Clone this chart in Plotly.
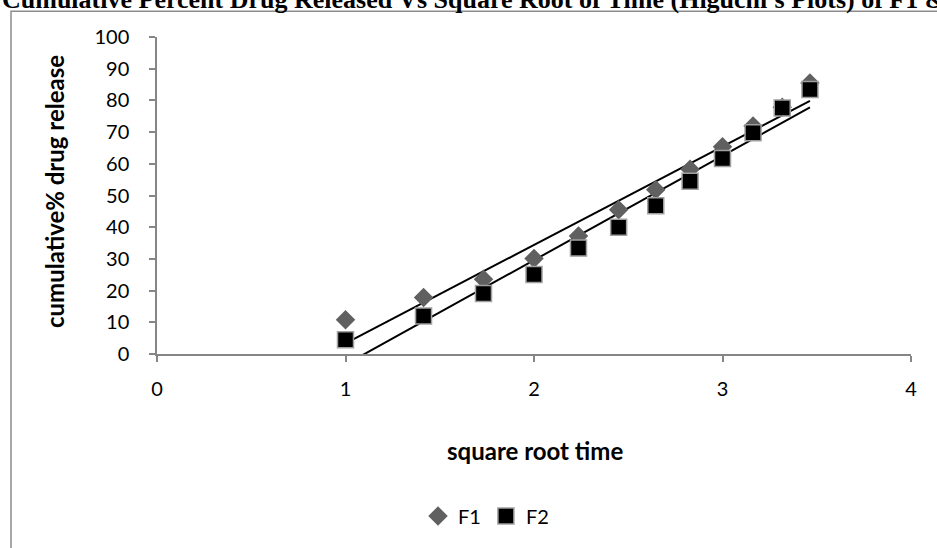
import numpy as np
import plotly.graph_objects as go

# Data
sqrt_time = [1.0, 1.414, 1.732, 2.0, 2.236, 2.449, 2.646, 2.828, 3.0, 3.162, 3.317, 3.464]
f1_release = [10.8, 17.8, 23.6, 30.1, 37.2, 45.5, 51.8, 58.3, 65.4, 71.9, 77.8, 85.5]
f2_release = [4.5, 12.0, 19.1, 25.1, 33.4, 40.0, 46.8, 54.5, 61.7, 69.8, 77.6, 83.4]
series_names = ["F1", "F2"]
x_ticks = [0, 1, 2, 3, 4]
y_ticks = list(range(0, 101, 10))

title_text = "Cumulative Percent Drug Released Vs Square Root of Time (Higuchi's Plots) of F1 & F2"
x_title = "square root time"
y_title = "cumulative% drug release"

W, H = 937, 548
L, R, T, B = 157, 26, 37, 192
pw, ph = W - L - R, H - T - B


def px_x(p):
    return (p - L) / pw


def px_y(p):
    return (H - B - p) / ph


font_sans = "Lato"
tick_font = dict(family=font_sans, size=20, color="black")

fig = go.Figure()

# trend lines (linear fits)
for ys in (f1_release, f2_release):
    m, c = np.polyfit(sqrt_time, ys, 1)
    xs = [sqrt_time[0], sqrt_time[-1]]
    fig.add_trace(go.Scatter(x=xs, y=[m * v + c for v in xs], mode="lines",
                             line=dict(color="black", width=2), showlegend=False,
                             hoverinfo="skip"))

fig.add_trace(go.Scatter(x=sqrt_time, y=f1_release, mode="markers", name=series_names[0],
                         marker=dict(symbol="diamond", size=15, color="#606060",
                                     line=dict(width=0))))
fig.add_trace(go.Scatter(x=sqrt_time, y=f2_release, mode="markers", name=series_names[1],
                         marker=dict(symbol="square", size=16, color="black",
                                     line=dict(width=1.5, color="#a0a0a0"))))

fig.update_layout(
    width=W, height=H,
    margin=dict(l=L, r=R, t=T, b=B),
    paper_bgcolor="white", plot_bgcolor="white",
    xaxis=dict(range=[0, 4], tickvals=x_ticks, showgrid=False, zeroline=False,
               showline=True, linecolor="#868686", linewidth=1.5,
               ticks="outside", ticklen=6, tickcolor="#868686", tickwidth=1.5,
               tickfont=tick_font, ticklabelstandoff=10),
    yaxis=dict(range=[0, 100], tickvals=y_ticks, showgrid=False, zeroline=False,
               showline=True, linecolor="#868686", linewidth=1.5,
               ticks="outside", ticklen=6, tickcolor="#868686", tickwidth=1.5,
               tickfont=tick_font, ticklabelstandoff=16),
    showlegend=True,
    legend=dict(orientation="h", x=px_x(418), xanchor="left", y=px_y(519), yanchor="middle",
                font=dict(family=font_sans, size=20, color="black"), itemwidth=30,
                bgcolor="rgba(0,0,0,0)"),
    annotations=[
        dict(text="<b>" + title_text + "</b>", xref="paper", yref="paper",
             x=px_x(0), y=px_y(16), xanchor="left", yanchor="bottom", showarrow=False,
             font=dict(family="Liberation Serif", size=26, color="black")),
        dict(text="<b>" + x_title + "</b>", xref="paper", yref="paper",
             x=px_x(535), y=px_y(453), xanchor="center", yanchor="middle", showarrow=False,
             font=dict(family=font_sans, size=24, color="black")),
        dict(text="<b>" + y_title + "</b>", xref="paper", yref="paper",
             x=px_x(54), y=px_y(193), xanchor="center", yanchor="middle", showarrow=False,
             textangle=-90, font=dict(family=font_sans, size=24, color="black")),
    ],
    shapes=[
        dict(type="rect", xref="paper", yref="paper", x0=px_x(11), x1=px_x(960),
             y0=px_y(570), y1=px_y(11), line=dict(color="#8c8c8c", width=1.5),
             fillcolor="rgba(0,0,0,0)", layer="below"),
    ],
)

fig.write_html("out.html")
